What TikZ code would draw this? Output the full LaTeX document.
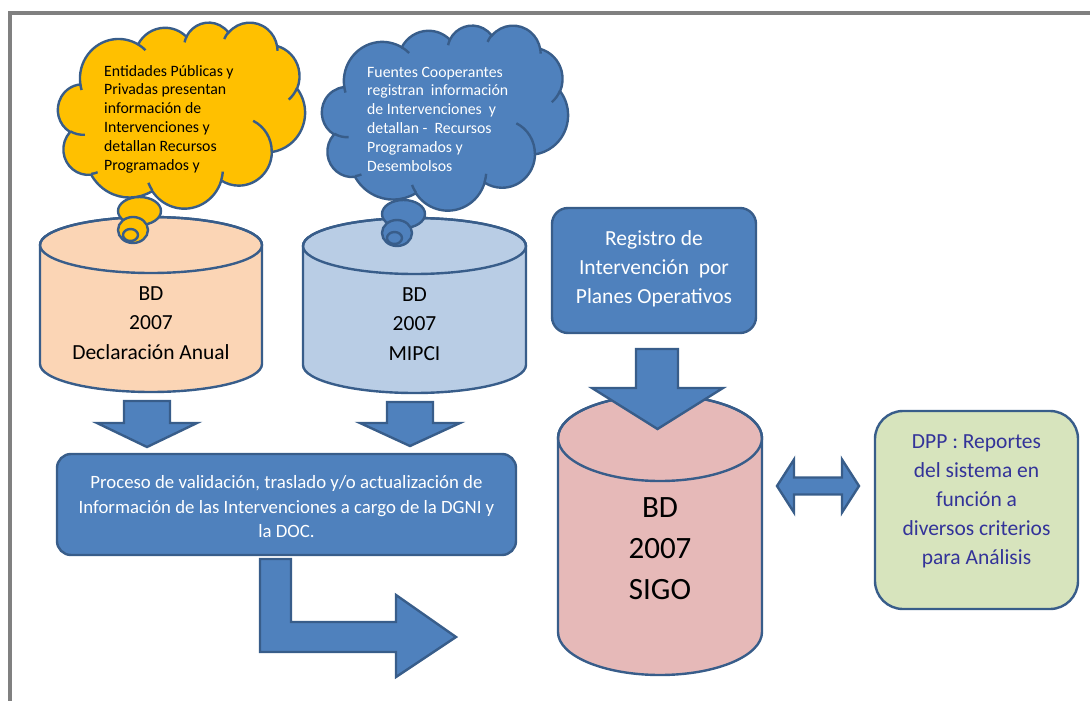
\documentclass[tikz,border=0pt]{standalone}
\usepackage{fontspec}
\setmainfont{Carlito}
\definecolor{ooblue}{HTML}{4F81BD}
\definecolor{oolineblue}{HTML}{385D8A}
\definecolor{ooyellow}{HTML}{FFC000}
\definecolor{oopeach}{HTML}{FBD5B5}
\definecolor{oolight}{HTML}{B9CDE5}
\definecolor{oopink}{HTML}{E6B9B8}
\definecolor{oogreen}{HTML}{D7E4BD}
\definecolor{dpptext}{HTML}{333399}
\definecolor{framegray}{HTML}{808080}
\newcommand\fsz[2]{\fontsize{#1}{#2}\selectfont}
\newcommand\oocloud[1]{%
  \filldraw[shp,fill=#1] (3.900,14.370)
    arc[ooarc={6.753}{9.190}{-190.48748}{123.78053}]
    arc[ooarc={5.333}{7.267}{-144.10238}{89.94523}]
    arc[ooarc={4.365}{5.945}{-145.80792}{99.72302}]
    arc[ooarc={4.857}{6.595}{-130.98607}{117.24173}]
    arc[ooarc={5.333}{7.273}{-78.70888}{109.02692}]
    arc[ooarc={6.775}{9.220}{-46.26725}{130.269}]
    arc[ooarc={5.785}{7.867}{0.62502}{114.03333}]
    arc[ooarc={6.752}{9.215}{22.4516}{115.17255}]
    arc[ooarc={7.720}{10.543}{66.24263}{75.71102}]
    arc[ooarc={4.360}{5.918}{-274.94208}{146.73557}]
    arc[ooarc={4.345}{5.945}{-246.8285}{152.51885}]
    -- cycle;
  \draw[shp]
    (4.693,26.177) arc[ooarc={4.345}{5.945}{86.742}{26.4295}]
    (6.928,34.899) arc[ooarc={4.360}{5.918}{73.61047}{11.44747}]
    (16.478,39.090) arc[ooarc={6.752}{9.215}{137.62415}{14.0811}]
    (28.827,34.751) arc[ooarc={6.752}{9.215}{6.45327}{15.99835}]
    (34.129,22.954) arc[ooarc={5.785}{7.867}{-70.29235}{70.91737}]
    (41.798,15.354) arc[ooarc={5.333}{7.273}{30.31803}{27.7515}]
    (38.324,5.426) arc[ooarc={4.857}{6.595}{-13.74433}{14.8589}]
    (29.078,3.952) arc[ooarc={4.857}{6.595}{-149.18145}{18.19537}]
    (22.141,4.720) arc[ooarc={4.365}{5.945}{-163.49427}{17.68635}]
    (14.000,5.192) arc[ooarc={6.753}{9.190}{-66.70695}{12.31935}]
    (4.127,15.789) arc[ooarc={6.753}{9.190}{157.65435}{11.85817}];
}
\begin{document}
\begin{tikzpicture}[x=1pt,y=-1pt,line join=miter,
  shp/.style={draw=oolineblue,line width=2.4pt},
  arrowshape/.style={shp,fill=ooblue},
  txt/.style={inner sep=0pt,align=center},
  box/.style={shp,inner sep=0pt,minimum width=#1},
  ooarc/.style n args={4}{
    x radius={#1*\csx*1pt}, y radius={#2*\csy*1pt},
    start angle={-atan2(#1*sin(#3),#2*cos(#3))},
    delta angle={-mod(atan2(#1*sin(#3+#4),#2*cos(#3+#4))-atan2(#1*sin(#3),#2*cos(#3))+720,360)}}]
\useasboundingbox (0,0) rectangle (1090,701);
% frame
\draw[framegray,line width=4pt] (9.5,701) -- (9.5,12.8) -- (1090,12.8);

% cylinder 1
\filldraw[shp,fill=oopeach] (40,245) -- (40,364)
  arc[start angle=180,end angle=360,x radius=111pt,y radius=28pt] -- (262,245)
  arc[start angle=0,end angle=180,x radius=111pt,y radius=28pt] -- cycle;
\draw[shp] (151,245) ellipse[x radius=111pt,y radius=28pt];
\node[txt,font=\fsz{21.5}{29.5}] (cyl1t) at (151,323) {BD\\2007\\Declaración Anual};

% cylinder 2
\filldraw[shp,fill=oolight] (303,246) -- (303,365)
  arc[start angle=180,end angle=360,x radius=111.5pt,y radius=28pt] -- (526,246)
  arc[start angle=0,end angle=180,x radius=111.5pt,y radius=28pt] -- cycle;
\draw[shp] (414.5,246) ellipse[x radius=111.5pt,y radius=28pt];
\node[txt,font=\fsz{21.5}{29.5}] (cyl2t) at (414.5,324) {BD\\2007\\MIPCI};

% cloud 1
\begin{scope}[shift={(58,22)},x=5.7176pt,y=-4.3056pt]
  \def\csx{5.7176}\def\csy{4.3056}
  \oocloud{ooyellow}
\end{scope}
\filldraw[shp,fill=ooyellow] (139.5,211) ellipse[x radius=21.5pt,y radius=14pt];
\filldraw[shp,fill=ooyellow] (133,230) ellipse[x radius=15pt,y radius=13pt];
\filldraw[shp,fill=ooyellow] (130.5,235) ellipse[x radius=7.5pt,y radius=6pt];
\node[inner sep=0pt,align=left,anchor=west,font=\fsz{15.8}{18.8}] (c1t) at (104,119)
  {Entidades Públicas y\\Privadas presentan\\información de\\Intervenciones y\\detallan Recursos\\Programados y};

% cloud 2
\begin{scope}[shift={(322,25)},x=5.6944pt,y=-4.2824pt]
  \def\csx{5.6944}\def\csy{4.2824}
  \oocloud{ooblue}
\end{scope}
\filldraw[shp,fill=ooblue] (403.5,214) ellipse[x radius=21.5pt,y radius=14pt];
\filldraw[shp,fill=ooblue] (397,233) ellipse[x radius=15pt,y radius=13pt];
\filldraw[shp,fill=ooblue] (394.5,238) ellipse[x radius=7.5pt,y radius=6pt];
\node[inner sep=0pt,align=left,anchor=west,text=white,font=\fsz{15.8}{18.8}] (c2t) at (367,119)
  {Fuentes Cooperantes\\registran\ \ información\\de Intervenciones\ \ y\\detallan -\ \ Recursos\\Programados y\\Desembolsos};

% register box
\node[box=204pt,minimum height=125pt,fill=ooblue,rounded corners=16pt] (reg) at (654,270.5) {};
\node[txt,text=white,font=\fsz{21.5}{29}] (regt) at (654,268.5) {Registro de\\Intervención\ \ por\\Planes Operativos};

% SIGO cylinder
\filldraw[shp,fill=oopink] (558,438) -- (558,632)
  arc[start angle=180,end angle=360,x radius=102pt,y radius=43pt] -- (762,438)
  arc[start angle=0,end angle=180,x radius=102pt,y radius=43pt] -- cycle;
\draw[shp] (660,438) ellipse[x radius=102pt,y radius=43pt];
\node[txt,font=\fsz{31}{41}] (sigot) at (660,549) {BD\\2007\\SIGO};

% arrow into SIGO
\filldraw[arrowshape] (636,349) -- (678,349) -- (678,388) -- (723,388) -- (657.5,429) -- (592,388) -- (636,388) -- cycle;

% down arrows
\filldraw[arrowshape] (124,401) -- (170,401) -- (170,423) -- (197,423) -- (147,447) -- (97,423) -- (124,423) -- cycle;
\filldraw[arrowshape] (387,402) -- (433,402) -- (433,423) -- (460,423) -- (410,446) -- (360,423) -- (387,423) -- cycle;

% process box
\node[box=459pt,minimum height=101pt,fill=ooblue,rounded corners=14pt] (proc) at (286.5,504.5) {};
\node[txt,text=white,font=\fsz{18.8}{24.5}] (proct) at (286.5,507)
  {Proceso de validación, traslado y/o actualización de\\Información de las Intervenciones a cargo de la DGNI y\\la DOC.};

% bent arrow
\filldraw[arrowshape] (260,559) -- (291,559) -- (291,622) -- (396,622) -- (396,595) -- (456,637) -- (396,677) -- (396,652) -- (260,652) -- cycle;

% double arrow
\filldraw[arrowshape] (777,486) -- (794,459.5) -- (794,477.5) -- (842,477.5) -- (842,459.5) -- (859,486) -- (842,512.5) -- (842,494.5) -- (794,494.5) -- (794,512.5) -- cycle;

% DPP box
\node[box=203pt,minimum height=198pt,fill=oogreen,rounded corners=28pt] (dpp) at (976.5,510) {};
\node[txt,text=dpptext,font=\fsz{21.5}{29}] (dppt) at (976.5,501.5)
  {DPP : Reportes\\del sistema en\\función a\\diversos criterios\\para Análisis};
\end{tikzpicture}
\end{document}
